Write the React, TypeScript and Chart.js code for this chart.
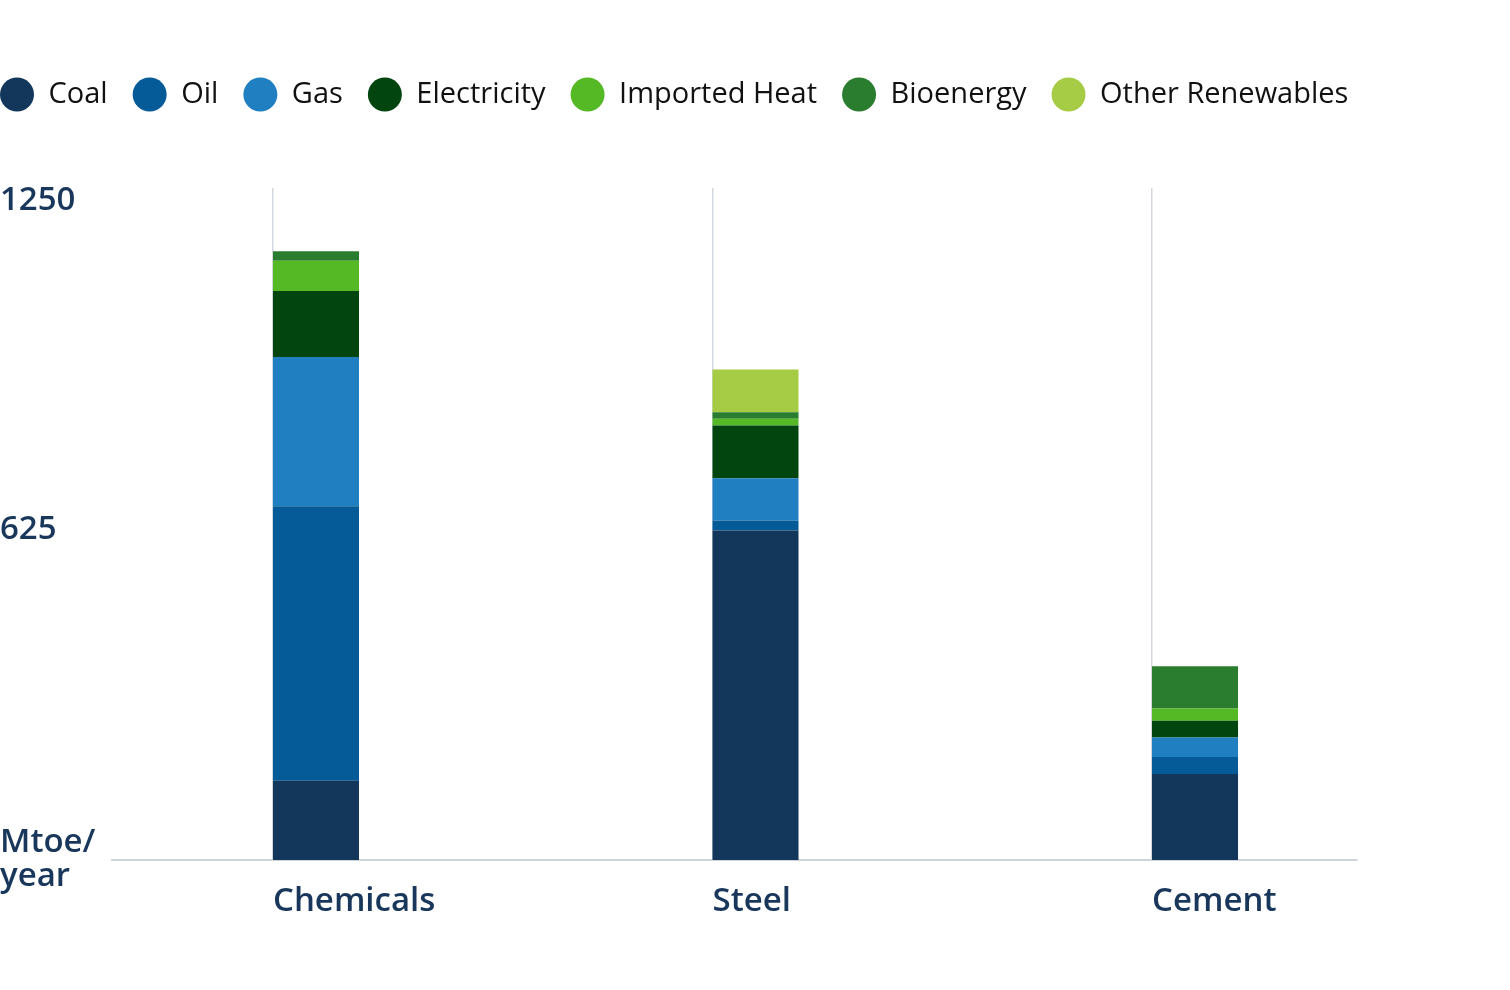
import React, { useEffect, useRef } from 'react';
import { Chart, registerables } from 'chart.js';

Chart.register(...registerables);

// ---- data ----
const categories = ['Chemicals', 'Steel', 'Cement'];
const coal = [150, 624, 163];
const oil = [520, 19, 32];
const gas = [283, 80, 37];
const electricity = [125, 100, 32];
const importedHeat = [57, 13, 23];
const bioenergy = [18, 12, 80];
const otherRenewables = [0, 81, 0];

const seriesNames = ['Coal', 'Oil', 'Gas', 'Electricity', 'Imported Heat', 'Bioenergy', 'Other Renewables'];
const seriesValues = [coal, oil, gas, electricity, importedHeat, bioenergy, otherRenewables];

const yTickValues = [0, 625, 1250];
const yUnitLabel = ['Mtoe/', 'year'];

// ---- styles ----
const seriesColors = ['#12375a', '#045b97', '#1f7fc1', '#03450f', '#55b825', '#2a7d2e', '#a6cb45'];
const axisTextColor = '#18375b';
const FONT = 'Open Sans';

export default function App() {
  const canvasRef = useRef<HTMLCanvasElement>(null);

  useEffect(() => {
    const canvas = canvasRef.current;
    if (!canvas) return;

    const datasets: any[] = [
      {
        label: '',
        data: categories.map((_, i) => ({ x: i, y: 0 })),
        stack: 'spacer',
        backgroundColor: 'rgba(0,0,0,0)',
        borderWidth: 0,
        xAxisID: 'x',
        yAxisID: 'y',
      },
    ];
    seriesNames.forEach((name, s) => {
      datasets.push({
        label: name,
        data: categories.map((_, i) => ({ x: i, y: seriesValues[s][i] })),
        stack: 'energy',
        backgroundColor: seriesColors[s],
        borderWidth: 0,
        xAxisID: 'x',
        yAxisID: 'y',
      });
    });

    const tickFont = { family: FONT, size: 33, weight: 600 as any, lineHeight: 1.03 };

    const chart = new Chart(canvas, {
      type: 'bar',
      data: { datasets },
      options: {
        responsive: false,
        animation: false,
        devicePixelRatio: 1,
        layout: { padding: { left: -25, top: 55, right: 0, bottom: 0 } },
        datasets: { bar: { categoryPercentage: 0.3914, barPercentage: 1 } },
        plugins: {
          tooltip: { enabled: false },
          legend: {
            display: true,
            position: 'top',
            align: 'start',
            labels: {
              usePointStyle: true,
              pointStyle: 'circle',
              boxHeight: 24,
              pointStyleWidth: 34,
              padding: 25,
              color: '#111111',
              font: { family: FONT, size: 29, weight: 400 as any },
              filter: (item: any) => item.text !== '',
            },
          },
        },
        scales: {
          x: {
            type: 'linear',
            position: 'bottom',
            stacked: true,
            offset: false,
            min: -0.3663,
            max: 2.4664,
            afterBuildTicks: (s: any) => {
              s.ticks = categories.map((_, i) => ({ value: i }));
            },
            afterFit: (s: any) => {
              s.height = 130;
            },
            grid: { display: true, offset: false, color: '#d3d8de', lineWidth: 1.5, drawTicks: false },
            border: { display: true, color: '#cfd4da', width: 2 },
            ticks: {
              align: 'start',
              padding: 25,
              autoSkip: false,
              maxRotation: 0,
              color: axisTextColor,
              font: tickFont,
              callback: (v: any) => categories[v] ?? '',
            },
          },
          y: {
            type: 'linear',
            position: 'left',
            stacked: true,
            min: 0,
            max: 1273,
            afterBuildTicks: (s: any) => {
              s.ticks = yTickValues.map((v) => ({ value: v }));
            },
            afterFit: (s: any) => {
              s.width = 112;
            },
            grid: { display: false },
            border: { display: false },
            ticks: {
              crossAlign: 'far',
              padding: 0,
              color: axisTextColor,
              font: tickFont,
              callback: (v: any) => (v === 0 ? yUnitLabel : String(v)),
            },
          },
          padTop: {
            axis: 'x',
            type: 'linear',
            position: 'top',
            display: true,
            grid: { display: false },
            border: { display: false },
            ticks: { display: false },
            afterFit: (s: any) => {
              s.height = 69;
            },
          },
          padLeft: {
            axis: 'y',
            type: 'linear',
            position: 'left',
            weight: 10,
            display: true,
            grid: { display: false },
            border: { display: false },
            ticks: { display: false },
            afterFit: (s: any) => {
              s.width = 25;
            },
          },
          padRight: {
            axis: 'y',
            type: 'linear',
            position: 'right',
            display: true,
            grid: { display: false },
            border: { display: false },
            ticks: { display: false },
            afterFit: (s: any) => {
              s.width = 153;
            },
          },
        } as any,
      } as any,
    });

    return () => {
      chart.destroy();
    };
  }, []);

  return (
    <div style={{ position: 'absolute', left: 0, top: 0, width: 1510, height: 990, background: '#ffffff' }}>
      <canvas ref={canvasRef} width={1510} height={990} style={{ display: 'block' }} />
    </div>
  );
}
